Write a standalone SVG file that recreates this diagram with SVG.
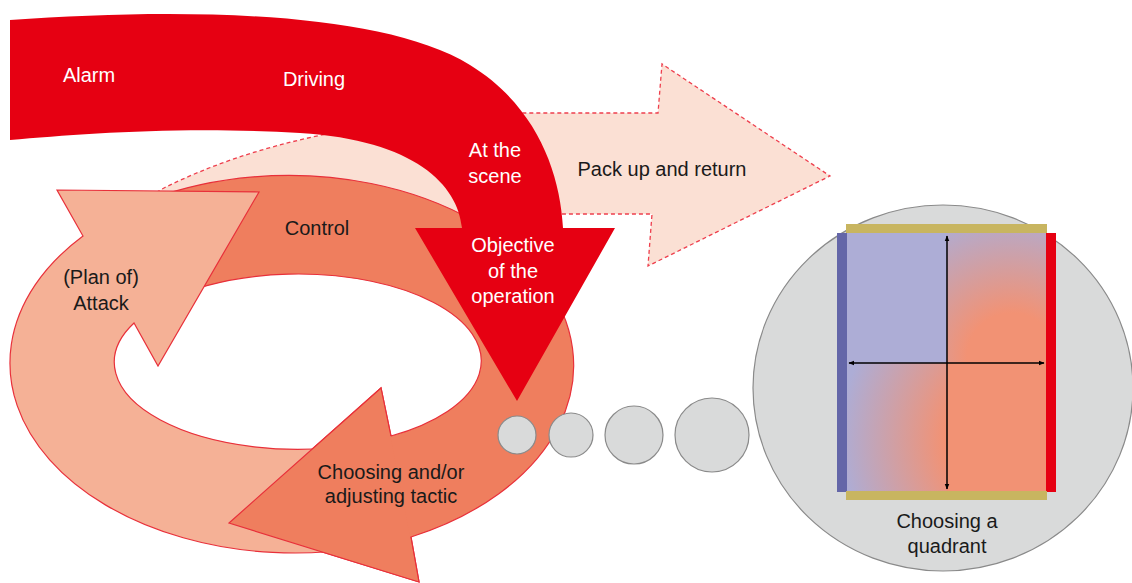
<svg xmlns="http://www.w3.org/2000/svg" width="1132" height="583" viewBox="0 0 1132 583">
<style>
text{font-family:"Liberation Sans",Arial,sans-serif;font-size:20px;text-anchor:middle}
.w{fill:#ffffff}
.k{fill:#1a1a1a}
.ring{stroke:#e8303a;stroke-width:1.2;stroke-linejoin:miter}
.gc{fill:#d9dada;stroke:#8a8a8a;stroke-width:1.2}
.ax{stroke:#000;stroke-width:1.5;fill:none;marker-start:url(#ah);marker-end:url(#ah)}
</style>
<defs>
<marker id="ah" viewBox="0 0 10 10" refX="9" refY="5" markerWidth="4" markerHeight="4" orient="auto-start-reverse"><path d="M0,1 L10,5 L0,9 Z" fill="#000"/></marker>
<radialGradient id="gTR" gradientUnits="userSpaceOnUse" cx="1012" cy="358" r="150"><stop offset="0" stop-color="#f29274"/><stop offset="0.3" stop-color="#f29274"/><stop offset="1" stop-color="#adadd6"/></radialGradient>
<radialGradient id="gBL" gradientUnits="userSpaceOnUse" cx="1030" cy="440" r="190"><stop offset="0" stop-color="#f29274"/><stop offset="0.45" stop-color="#f29274"/><stop offset="1" stop-color="#adadd6"/></radialGradient>
</defs>

<g id="pack-up">
<path d="M150,196 L164,188 Q300,120 518,113 L658,113 L662,64 L830,176 L648,266 L652,214 L560,214 L440,232 L200,262 Z" fill="#fbe0d4" stroke="#ee3f4d" stroke-width="1.3" stroke-dasharray="4 3"/>
<text class="k" x="662" y="176">Pack up and return</text>
</g>

<g id="cycle">
<g id="control">
<path class="ring" fill="#ef7e5e" d="M150,199.4 A285,190 0 1 1 411,537 L419,582 L229,523 L381,388 L391,436 A183,87 0 1 0 150,310 Z"/>
</g>
<g id="attack">
<path class="ring" fill="#f5b196" d="M360,548 A285,190 0 0 1 83,236 L57,190 L259,192 L158,366 L134,323 A183,87 0 0 0 360,444 Z"/>
<text class="k" x="101" y="284">(Plan of)</text>
<text class="k" x="101" y="310">Attack</text>
</g>
<g id="tactic">
<path d="M381,388 L229,523 L419,582 Z" fill="#ef7e5e"/>
<polyline class="ring" fill="none" points="391,436 381,388 229,523 419,582 411,537"/>
<text class="k" x="317" y="235">Control</text>
<text class="k" x="391" y="479">Choosing and/or</text>
<text class="k" x="391" y="503">adjusting tactic</text>
</g>
</g>

<g id="main-arrow">
<path d="M10,20 C180,8 380,10 470,65 C535,105 560,170 563,228 L615,228 L517,401 L415,228 L462,228 C458,185 415,140 300,133 C180,126 80,134 10,140 Z" fill="#e60012"/>
<text class="w" x="89" y="82">Alarm</text>
<text class="w" x="314" y="86">Driving</text>
<text class="w" x="495" y="157">At the</text>
<text class="w" x="495" y="183">scene</text>
<text class="w" x="513" y="252">Objective</text>
<text class="w" x="513" y="278">of the</text>
<text class="w" x="513" y="303">operation</text>
</g>

<g id="dots">
<circle class="gc" cx="517" cy="435" r="19"/>
<circle class="gc" cx="571" cy="435" r="22"/>
<circle class="gc" cx="634" cy="435" r="29"/>
<circle class="gc" cx="712" cy="435" r="37"/>
</g>

<g id="quadrant">
<ellipse class="gc" cx="943" cy="388" rx="190" ry="183"/>
<rect x="847" y="233" width="100" height="130" fill="#adadd6"/>
<rect x="947" y="233" width="99" height="130" fill="url(#gTR)"/>
<rect x="847" y="363" width="100" height="128" fill="url(#gBL)"/>
<rect x="947" y="363" width="99" height="128" fill="#f29274"/>
<rect x="837" y="233" width="10" height="259" fill="#6466a8"/>
<rect x="1046" y="233" width="10" height="259" fill="#e60012"/>
<rect x="846" y="224" width="201" height="9" fill="#c8b560"/>
<rect x="846" y="491" width="201" height="9" fill="#c8b560"/>
<line class="ax" x1="947" y1="236" x2="947" y2="489"/>
<line class="ax" x1="849" y1="363" x2="1044" y2="363"/>
<text class="k" x="947" y="528">Choosing a</text>
<text class="k" x="947" y="553">quadrant</text>
</g>
</svg>
